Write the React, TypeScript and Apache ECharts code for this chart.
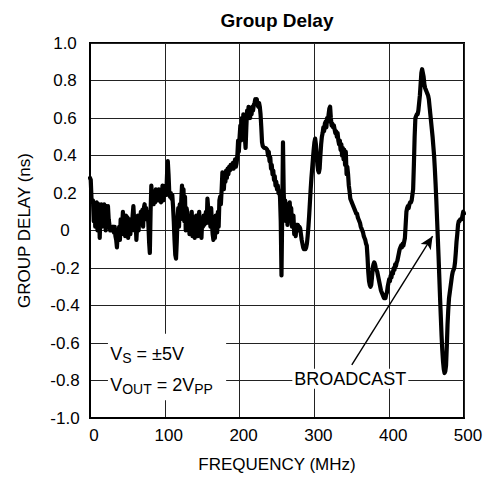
import { useEffect, useRef } from "react";
import * as echarts from "echarts";

// Frequency (MHz) and group delay (ns)
const frequencyMHz = [
  0, 1, 2, 3, 4, 5, 6, 7, 8, 9, 10, 11, 12, 13, 14, 15, 16, 17, 18, 19,
  20, 21, 22, 23, 24, 25, 26, 27, 28, 29, 30, 31, 32, 33, 34, 35, 36, 37, 38, 39,
  40, 41, 42, 43, 44, 45, 46, 47, 48, 49, 50, 51, 52, 53, 54, 55, 56, 57, 58, 59,
  60, 61, 62, 63, 64, 65, 66, 67, 68, 69, 70, 71, 72, 73, 74, 75, 76, 77, 78, 79,
  80, 81, 82, 83, 84, 85, 86, 87, 88, 89, 90, 91, 92, 93, 94, 95, 96, 97, 98, 99,
  100, 101, 102, 103, 104, 105, 106, 107, 108, 109, 110, 111, 112, 113, 114, 115, 116, 117, 118, 119,
  120, 121, 122, 123, 124, 125, 126, 127, 128, 129, 130, 131, 132, 133, 134, 135, 136, 137, 138, 139,
  140, 141, 142, 143, 144, 145, 146, 147, 148, 149, 150, 151, 152, 153, 154, 155, 156, 157, 158, 159,
  160, 161, 162, 163, 164, 165, 166, 167, 168, 169, 170, 171, 172, 173, 174, 175, 176, 177, 178, 179,
  180, 181, 182, 183, 184, 185, 186, 187, 188, 189, 190, 191, 192, 193, 194, 195, 196, 197, 198, 199,
  200, 201, 202, 203, 204, 205, 206, 207, 208, 209, 210, 211, 212, 213, 214, 215, 216, 217, 218, 219,
  220, 221, 222, 223, 224, 225, 226, 227, 228, 229, 230, 231, 233, 235, 237, 238, 239,
  240, 241, 242, 243, 244, 245, 246, 247, 248, 249, 250, 251, 252, 253, 254, 255, 256, 257, 258, 259,
  260, 261, 262, 263, 264, 265, 266, 267, 268, 269, 270, 271, 272, 273, 274, 275, 276, 277, 278, 279,
  280, 281, 282, 283, 284, 285, 286, 287, 288, 289, 290, 291, 292, 293, 294, 295, 296, 297, 298, 299,
  300, 301, 302, 303, 304, 305, 306, 307, 308, 309, 310, 311, 312, 313, 314, 315, 316, 317, 318, 319,
  320, 321, 322, 323, 324, 325, 326, 327, 328, 329, 330, 331, 332, 333, 334, 335, 336, 337, 338, 339,
  340, 341, 342, 343, 344, 345, 346, 347, 348, 349, 350, 351, 352, 353, 354, 355, 356, 357, 358, 359,
  360, 361, 362, 363, 364, 365, 366, 367, 368, 369, 370, 371, 372, 373, 374, 375, 376, 377, 378, 379,
  380, 381, 382, 383, 384, 385, 386, 387, 388, 389, 390, 391, 392, 393, 394, 395, 396, 397, 398, 399,
  400, 401, 402, 403, 404, 405, 406, 407, 408, 409, 410, 411, 412, 413, 414, 415, 416, 417, 418, 419,
  420, 421, 422, 423, 424, 425, 426, 427, 428, 429, 430, 431, 432, 433, 434, 435, 436, 437, 438, 439,
  440, 441, 442, 443, 444, 445, 446, 447, 448, 449, 450, 451, 452, 453, 454, 455, 456, 457, 458, 459,
  460, 461, 462, 463, 464, 465, 466, 467, 468, 469, 470, 471, 472, 473, 474, 475, 476, 477, 478, 479,
  480, 481, 482, 483, 484, 485, 486, 487, 488, 489, 490, 491, 492, 493, 494, 495, 496, 497, 498, 499,
  500,
];

const groupDelayNs = [
  0.28, 0.27, 0.17, 0.15, 0.16, 0.05, 0.14, 0.02, 0.13, 0.15, 0.0, 0.12, 0.14, -0.04, 0.1, 0.14, 0.02, 0.12, 0.05, 0.14,
  0.11, 0.0, 0.13, 0.1, 0.13, 0.06, 0.03, 0.0, 0.02, 0.01, 0.0, 0.02, -0.01, 0.02, -0.03, -0.05, -0.09, -0.02, -0.03, 0.02,
  -0.05, 0.06, -0.02, 0.03, 0.1, 0.0, 0.05, -0.03, 0.08, 0.02, 0.07, -0.04, 0.03, 0.06, -0.02, 0.05, 0.0, 0.08, 0.13, 0.06,
  0.0, 0.05, -0.05, 0.02, 0.08, 0.0, 0.08, 0.04, 0.1, 0.05, 0.11, 0.02, 0.12, 0.14, 0.08, 0.12, 0.06, 0.1, 0.04, -0.06,
  -0.12, 0.1, 0.24, 0.17, 0.2, 0.14, 0.19, 0.15, 0.22, 0.16, 0.21, 0.18, 0.22, 0.16, 0.2, 0.15, 0.19, 0.24, 0.16, 0.2,
  0.2, 0.24, 0.19, 0.3, 0.37, 0.3, 0.2, 0.18, 0.2, 0.17, 0.19, 0.13, 0.05, -0.05, -0.13, -0.15, -0.06, 0.06, 0.12, 0.02,
  0.14, 0.06, 0.16, 0.24, 0.1, 0.22, 0.05, 0.18, 0.0, 0.12, 0.1, 0.0, 0.08, -0.02, 0.06, 0.02, 0.1, -0.03, 0.04, 0.07,
  -0.04, 0.03, 0.08, 0.01, -0.03, 0.05, 0.1, 0.0, 0.05, -0.04, 0.06, 0.02, 0.08, 0.03, 0.07, 0.1, 0.04, 0.17, 0.12, 0.05,
  0.1, 0.02, 0.12, 0.04, -0.02, -0.05, 0.0, -0.04, 0.08, 0.0, -0.01, 0.1, 0.02, 0.16, 0.18, 0.14, 0.22, 0.31, 0.26, 0.22,
  0.3, 0.26, 0.32, 0.28, 0.33, 0.3, 0.34, 0.32, 0.35, 0.33, 0.34, 0.36, 0.33, 0.35, 0.38, 0.34, 0.36, 0.4, 0.48, 0.42,
  0.5, 0.56, 0.48, 0.6, 0.52, 0.62, 0.58, 0.5, 0.44, 0.55, 0.64, 0.6, 0.66, 0.62, 0.6, 0.64, 0.62, 0.66, 0.64, 0.67,
  0.68, 0.7, 0.69, 0.7, 0.67, 0.66, 0.68, 0.66, 0.62, 0.55, 0.47, 0.45, 0.44, 0.44, 0.43, 0.4, 0.42,
  0.37, 0.39, 0.33, 0.35, 0.3, 0.32, 0.27, 0.29, 0.24, 0.26, 0.22, 0.24, 0.2, 0.21, 0.18, 0.05, -0.24, 0.1, 0.47, 0.2,
  0.08, 0.16, 0.05, 0.14, 0.03, 0.13, 0.06, 0.15, 0.07, 0.12, 0.02, 0.06, 0.08, -0.02, 0.0, -0.03, 0.03, 0.02, 0.03, 0.0,
  0.02, 0.01, -0.02, -0.05, -0.07, -0.09, -0.1, -0.1, -0.1, -0.09, -0.07, -0.03, 0.02, 0.08, 0.15, 0.22, 0.28, 0.33, 0.38, 0.43,
  0.47, 0.49, 0.46, 0.4, 0.35, 0.32, 0.31, 0.33, 0.4, 0.46, 0.5, 0.52, 0.55, 0.53, 0.57, 0.58, 0.55, 0.6, 0.58, 0.62,
  0.65, 0.66, 0.6, 0.56, 0.57, 0.55, 0.56, 0.54, 0.52, 0.53, 0.5, 0.52, 0.48, 0.46, 0.48, 0.43, 0.46, 0.4, 0.44, 0.38,
  0.43, 0.35, 0.42, 0.3, 0.34, 0.3, 0.24, 0.21, 0.17, 0.16, 0.15, 0.14, 0.13, 0.12, 0.11, 0.1, 0.09, 0.09, 0.07, 0.06,
  0.05, 0.04, 0.02, 0.01, 0.0, -0.01, -0.03, -0.04, -0.05, -0.07, -0.08, -0.14, -0.22, -0.27, -0.29, -0.3, -0.29, -0.25, -0.2, -0.18,
  -0.17, -0.18, -0.2, -0.21, -0.22, -0.24, -0.26, -0.28, -0.3, -0.32, -0.33, -0.34, -0.35, -0.36, -0.35, -0.36, -0.34, -0.33, -0.3, -0.28,
  -0.26, -0.27, -0.24, -0.25, -0.22, -0.23, -0.2, -0.21, -0.18, -0.19, -0.17, -0.16, -0.14, -0.12, -0.1, -0.09, -0.08, -0.09, -0.07, -0.08,
  -0.06, -0.04, 0.03, 0.1, 0.12, 0.13, 0.12, 0.14, 0.15, 0.15, 0.16, 0.19, 0.22, 0.35, 0.5, 0.6, 0.61, 0.62, 0.62, 0.64,
  0.68, 0.72, 0.78, 0.84, 0.86, 0.84, 0.82, 0.78, 0.76, 0.75, 0.74, 0.73, 0.72, 0.7, 0.66, 0.62, 0.58, 0.54, 0.5, 0.45,
  0.4, 0.33, 0.25, 0.16, 0.06, -0.04, -0.14, -0.25, -0.36, -0.46, -0.56, -0.64, -0.7, -0.74, -0.76, -0.75, -0.72, -0.62, -0.5, -0.42,
  -0.36, -0.33, -0.3, -0.27, -0.24, -0.22, -0.21, -0.2, -0.17, -0.12, -0.06, -0.02, 0.03, 0.05, 0.05, 0.06, 0.06, 0.06, 0.08, 0.1,
  0.09,
];

// Annotation anchors in data units [MHz, ns]
const supplyLabelAt = [27, -0.66];
const outputLabelAt = [27, -0.825];
const conditionsBoxFrom = [24, -0.55];
const conditionsBoxTo = [182, -0.905];
const broadcastLabelAt = [348, -0.79];
const arrowFrom = [350, -0.717];
const arrowTo = [458, -0.03];
const titleAt = [250, 1.12];

const FONT = "'Liberation Sans', Arial, Helvetica, sans-serif";

export default function App() {
  const ref = useRef<HTMLDivElement>(null);

  useEffect(() => {
    if (!ref.current) return;
    const chart = echarts.init(ref.current, null, { renderer: "svg" });
    const data = frequencyMHz.map((f, i) => [f, groupDelayNs[i]]);

    chart.setOption({
      animation: false,
      backgroundColor: "#ffffff",
      grid: {
        left: 90,
        right: 24,
        top: 43,
        bottom: 63,
        show: true,
        borderColor: "#000",
        borderWidth: 2,
        backgroundColor: "transparent",
      },
      xAxis: {
        type: "value",
        min: 0,
        max: 500,
        interval: 100,
        name: "FREQUENCY (MHz)",
        nameLocation: "middle",
        nameGap: 38,
        nameTextStyle: { fontFamily: FONT, fontSize: 17, color: "#000" },
        axisLine: { show: true, onZero: false, lineStyle: { color: "#000", width: 2 } },
        axisTick: { show: false },
        splitLine: { show: true, lineStyle: { color: "#222", width: 1 } },
        axisLabel: {
          margin: 9,
          fontFamily: FONT,
          fontSize: 17,
          color: "#000",
          padding: [0, 0, 0, 8],
        },
      },
      yAxis: {
        type: "value",
        min: -1,
        max: 1,
        interval: 0.2,
        name: "GROUP DELAY (ns)",
        nameLocation: "middle",
        nameRotate: 90,
        nameGap: 57,
        nameTextStyle: { fontFamily: FONT, fontSize: 17, color: "#000" },
        axisLine: { show: true, onZero: false, lineStyle: { color: "#000", width: 2 } },
        axisTick: { show: false },
        splitLine: { show: true, lineStyle: { color: "#222", width: 1 } },
        axisLabel: {
          margin: 25,
          align: "center",
          fontFamily: FONT,
          fontSize: 17,
          color: "#000",
          padding: [6, 0, 0, 0],
          formatter: (v: number) => (Math.abs(v) < 1e-9 ? "0" : v.toFixed(1)),
        },
      },
      series: [
        {
          type: "line",
          data,
          showSymbol: false,
          symbol: "none",
          smooth: false,
          lineStyle: { color: "#000", width: 4.2, join: "round", cap: "round" },
          z: 3,
          markLine: {
            silent: true,
            symbol: ["none", "arrow"],
            symbolSize: [9, 13],
            label: { show: false },
            lineStyle: { color: "#000", width: 1.4, type: "solid" },
            data: [[{ coord: arrowFrom }, { coord: arrowTo }]],
          },
        },
      ],
    });

    const px = (p: number[]) => chart.convertToPixel({ gridIndex: 0 }, p) as number[];
    const b0 = px(conditionsBoxFrom);
    const b1 = px(conditionsBoxTo);
    const s = px(supplyLabelAt);
    const o = px(outputLabelAt);
    const bc = px(broadcastLabelAt);
    const t = px(titleAt);

    const rich = {
      m: { fontFamily: FONT, fontSize: 18, color: "#000", lineHeight: 22 },
      s: { fontFamily: FONT, fontSize: 14, color: "#000", lineHeight: 12, verticalAlign: "bottom" },
    };

    chart.setOption({
      graphic: [
        {
          type: "text",
          z: 51,
          silent: true,
          x: t[0],
          y: t[1],
          style: {
            text: "Group Delay",
            fontFamily: FONT,
            fontSize: 19,
            fontWeight: "bold",
            fill: "#000",
            align: "center",
            verticalAlign: "middle",
          },
        },
        {
          type: "rect",
          z: 50,
          silent: true,
          shape: { x: b0[0], y: b0[1], width: b1[0] - b0[0], height: b1[1] - b0[1] },
          style: { fill: "#fff" },
        },
        {
          type: "text",
          z: 51,
          silent: true,
          x: s[0],
          y: s[1],
          style: {
            text: "{m|V}{s|S}{m| = ±5V}",
            rich,
            align: "left",
            verticalAlign: "middle",
          },
        },
        {
          type: "text",
          z: 51,
          silent: true,
          x: o[0],
          y: o[1],
          style: {
            text: "{m|V}{s|OUT}{m| = 2V}{s|PP}",
            rich,
            align: "left",
            verticalAlign: "middle",
          },
        },
        {
          type: "text",
          z: 51,
          silent: true,
          x: bc[0],
          y: bc[1],
          style: {
            text: "BROADCAST",
            fontFamily: FONT,
            fontSize: 18,
            fill: "#000",
            align: "center",
            verticalAlign: "middle",
            backgroundColor: "#fff",
            padding: [1, 2],
          },
        },
      ],
    });

    return () => chart.dispose();
  }, []);

  return (
    <div
      ref={ref}
      style={{ position: "absolute", left: 0, top: 0, width: 488, height: 481 }}
    />
  );
}
